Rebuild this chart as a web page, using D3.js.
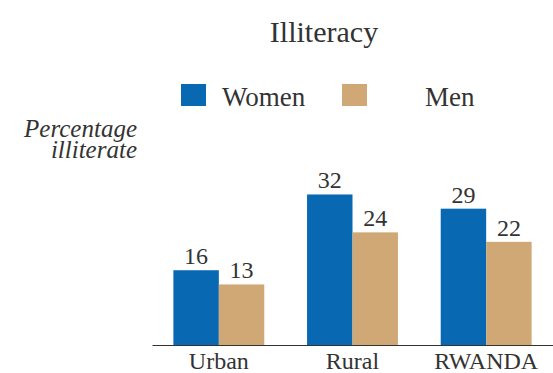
<!DOCTYPE html>
<html>
<head>
<meta charset="utf-8">
<script src="https://cdn.jsdelivr.net/npm/d3@7"></script>
<style>
  html, body { margin: 0; padding: 0; background: #ffffff; }
  svg { display: block; }
  svg text { font-family: "Liberation Serif", "DejaVu Serif", serif !important; }
</style>
</head>
<body>
<svg id="chart" width="553" height="373"></svg>
<script>
// Illiteracy rates by area, women vs men (percent)
const categories = ["Urban", "Rural", "RWANDA"];
const seriesNames = ["Women", "Men"];
const women = [16, 32, 29];
const men = [13, 24, 22];
const seriesColors = ["#0868b2", "#cfa876"];

const FONT = "Liberation Serif";
const svg = d3.select("#chart");
const plot = { left: 152, right: 553, top: 157, bottom: 346 };

const rows = categories.map((c, i) => ({ category: c, values: [women[i], men[i]] }));

const x0 = d3.scaleBand()
  .domain(categories)
  .range([plot.left, plot.right])
  .paddingInner(0.32)
  .paddingOuter(0.16);

const x1 = d3.scaleBand()
  .domain(seriesNames)
  .range([0, x0.bandwidth()]);

const y = d3.scaleLinear()
  .domain([0, 40])
  .range([plot.bottom, plot.bottom - 40 * 4.735]);

const color = d3.scaleOrdinal().domain(seriesNames).range(seriesColors);

// Title
svg.append("text")
  .attr("x", 324)
  .attr("y", 42)
  .attr("text-anchor", "middle")
  .attr("font-family", FONT)
  .attr("font-size", 30)
  .attr("fill", "#333")
  .text("Illiteracy");

// Legend
const legendPos = [{ sx: 181, tx: 222 }, { sx: 342, tx: 425 }];
seriesNames.forEach((name, i) => {
  svg.append("rect")
    .attr("x", legendPos[i].sx)
    .attr("y", 84)
    .attr("width", 25)
    .attr("height", 22)
    .attr("fill", color(name));
  svg.append("text")
    .attr("x", legendPos[i].tx)
    .attr("y", 106)
    .attr("font-family", FONT)
    .attr("font-size", 27)
    .attr("fill", "#333")
    .text(name);
});

// Y-axis title, two italic lines right-aligned
const yTitle = svg.append("text")
  .attr("text-anchor", "end")
  .attr("font-family", FONT)
  .attr("font-size", 25)
  .attr("font-style", "italic")
  .attr("fill", "#333");
yTitle.append("tspan").attr("x", 137).attr("y", 137).text("Percentage");
yTitle.append("tspan").attr("x", 137).attr("y", 158).text("illiterate");

// Bars
const groups = svg.append("g")
  .selectAll("g")
  .data(rows)
  .join("g")
  .attr("transform", d => `translate(${x0(d.category)},0)`);

const cells = groups.selectAll("g")
  .data(d => d.values.map((v, i) => ({ name: seriesNames[i], value: v })))
  .join("g");

cells.append("rect")
  .attr("x", d => x1(d.name))
  .attr("y", d => y(d.value))
  .attr("width", x1.bandwidth())
  .attr("height", d => y(0) - y(d.value))
  .attr("fill", d => color(d.name));

cells.append("text")
  .attr("x", d => x1(d.name) + x1.bandwidth() / 2)
  .attr("y", d => y(d.value) - 6)
  .attr("text-anchor", "middle")
  .attr("font-family", FONT)
  .attr("font-size", 24)
  .attr("fill", "#333")
  .text(d => d.value);

// Category axis
const xAxis = svg.append("g")
  .attr("transform", `translate(0,${plot.bottom - 1})`)
  .call(d3.axisBottom(x0).tickSize(0).tickSizeOuter(0))
  .attr("font-family", FONT);

xAxis.select(".domain").attr("stroke", "#333").attr("stroke-width", 1.2);
xAxis.selectAll("text")
  .attr("dy", null)
  .attr("y", 23.5)
  .attr("font-size", 24)
  .attr("fill", "#333");
</script>
</body>
</html>
